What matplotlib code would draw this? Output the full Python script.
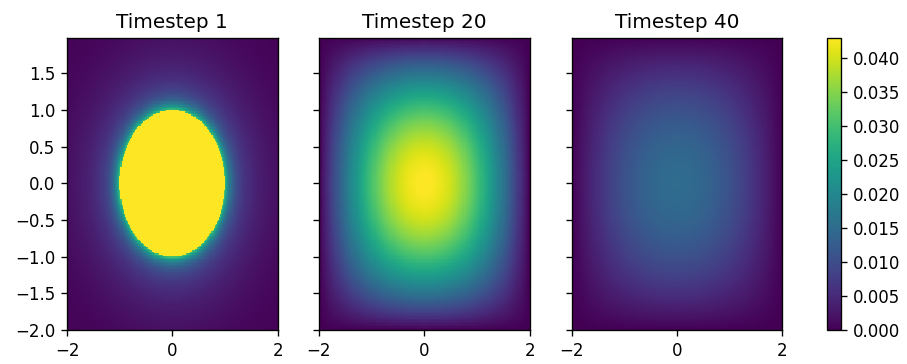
import numpy as np
import matplotlib
matplotlib.use("Agg")
import matplotlib.pyplot as plt

# grid of cell centres
nx, ny = 200, 200
x = np.linspace(-2, 2, nx)
y = np.linspace(-2, 1.97, ny)
X, Y = np.meshgrid(x, y)
R = np.sqrt(X**2 + Y**2)

timesteps = [1, 20, 40]

# timestep 1: hot disc with a thin bright rim and a wider faint tail
disc_radius = 1.0
disc_level = 0.06
rim_level, rim_width = 0.018, 0.09
tail_level, tail_width = 0.013, 0.5

# later timesteps: smooth blob that decays towards the walls
peak_levels = [0.043, 0.015]

vmin, vmax = 0.0, 0.043

outside = np.clip(R - disc_radius, 0, None)
u1 = np.where(R <= disc_radius, disc_level,
              rim_level * np.exp(-outside / rim_width)
              + tail_level * np.exp(-outside / tail_width))

window = np.cos(np.pi * X / 4) * np.cos(np.pi * Y / 4)
fields = [u1] + [p * window for p in peak_levels]

fig = plt.figure(figsize=(907 / 120, 364 / 120), dpi=120)
lefts = [0.0739, 0.3517, 0.6303]
axes = [fig.add_axes([l, 0.0934, 0.2322, 0.802]) for l in lefts]

for i, (ax, u, t) in enumerate(zip(axes, fields, timesteps)):
    im = ax.pcolormesh(x, y, u, shading="nearest", cmap="viridis",
                       vmin=vmin, vmax=vmax)
    ax.set_xlim(-2, 2)
    ax.set_ylim(-2, 1.98)
    ax.set_xticks([-2, 0, 2])
    ax.set_yticks(np.arange(-2.0, 1.51, 0.5))
    ax.set_title(f"Timestep {t}")
    if i > 0:
        ax.set_yticklabels([])

cax = fig.add_axes([0.9115, 0.0934, 0.0158, 0.802])
cb = fig.colorbar(im, cax=cax)
cb.set_ticks(np.arange(0, 0.0401, 0.005))
cb.ax.set_yticklabels([f"{v:.3f}" for v in np.arange(0, 0.0401, 0.005)])

fig.savefig("out.png", dpi=120)
